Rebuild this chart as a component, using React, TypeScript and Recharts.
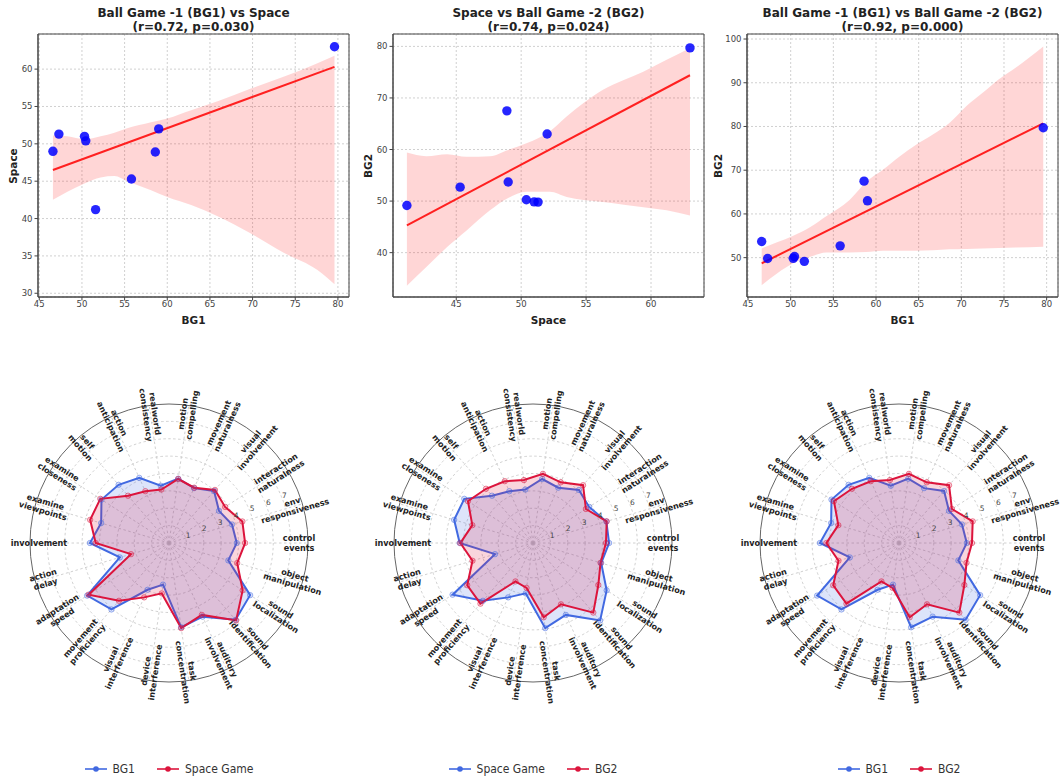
import {
  ComposedChart, Scatter, Line, Area, XAxis, YAxis, CartesianGrid, ReferenceArea,
  RadarChart, Radar, PolarGrid, PolarAngleAxis, PolarRadiusAxis, Legend,
} from 'recharts';

const FONT = '"DejaVu Sans", sans-serif';
const BLUE = '#4169e1';
const RED = '#dc143c';

// overall scores per participant (same participant order in each array)
const bg1Scores = [46.6, 47.3, 50.3, 50.45, 51.6, 55.8, 58.6, 59.0, 79.6];
const spaceScores = [49.0, 51.3, 51.0, 50.4, 41.2, 45.3, 48.9, 52.0, 63.0];
const bg2Scores = [53.7, 49.8, 49.85, 50.25, 49.15, 52.7, 67.5, 63.0, 79.7];

// fitted regression lines (end points)
const fitBg1Space = { x: [46.6, 79.6], y: [46.5, 60.3] };
const fitSpaceBg2 = { x: [41.2, 63.0], y: [45.3, 74.4] };
const fitBg1Bg2 = { x: [46.6, 79.6], y: [48.7, 80.7] };

// bootstrapped 95% confidence bands
const bandBg1SpaceX = [46.6, 48.3, 50.3, 52.2, 53.8, 55.3, 58.1, 60.0, 62.8, 65.9, 69.8, 73.7, 77.6, 79.6];
const bandBg1SpaceHi = [51.1, 51.0, 50.6, 51.0, 51.5, 52.1, 52.9, 53.4, 54.5, 55.7, 57.4, 59.0, 60.8, 61.8];
const bandBg1SpaceLo = [42.5, 43.6, 44.7, 45.5, 45.7, 45.0, 43.8, 42.9, 41.8, 40.3, 38.0, 35.4, 33.1, 31.2];

const bandSpaceBg2X = [41.2, 42.7, 44.3, 45.8, 47.6, 49.0, 50.4, 52.2, 53.5, 54.8, 56.3, 57.9, 59.4, 61.2, 63.0];
const bandSpaceBg2Hi = [59.4, 58.7, 59.1, 58.6, 58.7, 59.9, 61.2, 63.5, 66.4, 69.0, 71.6, 73.5, 75.1, 77.4, 79.7];
const bandSpaceBg2Lo = [33.6, 37.2, 41.1, 44.3, 48.2, 50.6, 51.8, 51.8, 50.8, 50.2, 49.8, 49.3, 48.8, 48.2, 47.2];

const bandBg1Bg2X = [46.6, 48.4, 50.3, 52.3, 54.2, 56.9, 58.9, 60.8, 62.8, 64.7, 66.7, 68.6, 70.6, 72.5, 74.4, 76.4, 79.6];
const bandBg1Bg2Hi = [52.1, 53.5, 55.0, 57.0, 59.5, 63.2, 67.4, 70.1, 73.2, 75.8, 78.2, 80.8, 84.7, 87.7, 90.8, 93.5, 98.3];
const bandBg1Bg2Lo = [43.7, 46.4, 48.7, 50.2, 51.2, 51.2, 51.3, 51.6, 51.6, 51.6, 51.7, 51.9, 52.0, 52.1, 52.2, 52.3, 52.5];

// questionnaire items (radar axes, counter-clockwise from the right)
const metrics = [
  'control\nevents', 'env\nresponsiveness', 'interaction\nnaturalness', 'visual\ninvolvement',
  'movement\nnaturalness', 'motion\ncompelling', 'realworld\nconsistency', 'action\nanticipation',
  'self\nmotion', 'examine\ncloseness', 'examine\nviewpoints', 'involvement', 'action\ndelay',
  'adaptation\nspeed', 'movement\nproficiency', 'visual\ninterference', 'device\ninterference',
  'task\nconcentration', 'auditory\ninvolvement', 'sound\nidentification', 'sound\nlocalization',
  'object\nmanipulation',
];
const bg1Items = [3.9, 3.78, 3.42, 3.96, 3.47, 3.74, 3.33, 4.12, 4.43, 4.62, 4.07, 4.55, 2.95, 5.6, 5.06, 2.96, 2.42, 4.9, 4.66, 5.85, 5.55, 3.56];
const spaceItems = [4.38, 4.4, 3.84, 4.04, 3.5, 3.72, 3.11, 3.28, 3.6, 4.7, 4.73, 4.22, 2.28, 5.5, 4.4, 3.44, 2.93, 4.95, 4.55, 5.9, 5.04, 4.09];
const bg2Items = [4.2, 4.42, 3.62, 4.4, 3.84, 4.02, 3.66, 3.91, 4.13, 4.45, 3.64, 4.18, 3.63, 4.5, 4.62, 2.43, 2.61, 4.32, 3.88, 5.3, 4.47, 4.05];
const ringTicks = [1, 2, 3, 4, 5, 6, 7];

// recharts sweeps the radar clockwise reliably, so the rows go in reverse
// order and the sweep starts one step below 3 o'clock
const radarRows = metrics
  .map((metric, i) => ({ metric, bg1: bg1Items[i], space: spaceItems[i], bg2: bg2Items[i] }))
  .reverse();
const STEP = 360 / metrics.length;

const toPoints = (xs: number[], ys: number[]) => xs.map((x, i) => ({ x, y: ys[i] }));
const toBand = (xs: number[], lo: number[], hi: number[]) =>
  xs.map((x, i) => ({ x, band: [lo[i], hi[i]] }));

const PLOT_W = 311;
const PLOT_H = 263;

interface ScatterPanelProps {
  left: number;
  title: string;
  stats: string;
  xLabel: string;
  yLabel: string;
  yLabelGap: number;
  points: { x: number; y: number }[];
  fit: { x: number; y: number }[];
  band: { x: number; band: number[] }[];
  xDomain: [number, number];
  yDomain: [number, number];
  xTicks: number[];
  yTicks: number[];
}

function ScatterPanel(p: ScatterPanelProps) {
  const tick = { fontSize: 8.5, fill: '#444', fontFamily: FONT };
  return (
    <div style={{ position: 'absolute', left: p.left, top: 0, width: 360, height: 330 }}>
      <div style={{
        position: 'absolute', left: 40, width: PLOT_W, top: 6, textAlign: 'center',
        font: `bold 12px/14px ${FONT}`, color: '#222', whiteSpace: 'nowrap',
      }}>
        <div>{p.title}</div>
        <div>{p.stats}</div>
      </div>
      <ComposedChart width={360} height={330} margin={{ top: 34, right: 9, bottom: 11, left: 12 }}>
        <CartesianGrid stroke="#d0d0d0" strokeDasharray="2 2" />
        <XAxis
          type="number" dataKey="x" domain={p.xDomain} ticks={p.xTicks} allowDataOverflow
          height={22} tick={tick} tickSize={3.5} tickMargin={0} stroke="#444"
        />
        <YAxis
          type="number" domain={p.yDomain} ticks={p.yTicks} allowDataOverflow
          width={28} tick={tick} tickSize={3.5} tickMargin={2} stroke="#444"
        />
        <Area
          data={p.band} dataKey="band" type="monotone" stroke="none"
          fill="#ff0000" fillOpacity={0.16} isAnimationActive={false}
        />
        <Line
          data={p.fit} dataKey="y" type="linear" stroke="#ff2020" strokeWidth={2}
          dot={false} isAnimationActive={false}
        />
        <Scatter
          data={p.points} dataKey="y" isAnimationActive={false}
          shape={(s: any) => <circle cx={s.cx} cy={s.cy} r={4.7} fill="#0000ff" fillOpacity={0.85} />}
        />
        <ReferenceArea
          x1={p.xDomain[0]} x2={p.xDomain[1]} y1={p.yDomain[0]} y2={p.yDomain[1]}
          fill="none" stroke="#444" strokeWidth={1} ifOverflow="visible"
        />
      </ComposedChart>
      <div style={{
        position: 'absolute', left: 40, width: PLOT_W, top: 314, textAlign: 'center',
        font: `bold 10.5px/12px ${FONT}`, color: '#222',
      }}>
        {p.xLabel}
      </div>
      <div style={{
        position: 'absolute', left: 40 - p.yLabelGap - 30, width: 60, top: 34 + PLOT_H / 2 - 6,
        textAlign: 'center', font: `bold 10.5px/12px ${FONT}`, color: '#222',
        transform: 'rotate(-90deg)',
      }}>
        {p.yLabel}
      </div>
    </div>
  );
}

const RCX = 180;
const RCY = 180;
const R_OUTER = 139;
const LABEL_R = 130;

function AngleTick(props: any) {
  const { payload } = props;
  const deg = (((payload?.coordinate ?? 0) % 360) + 360) % 360;
  const rad = (deg * Math.PI) / 180;
  const x = RCX + LABEL_R * Math.cos(rad);
  const y = RCY - LABEL_R * Math.sin(rad);
  const rot = deg > 90 && deg < 270 ? deg - 180 : deg > 270 ? deg - 360 : deg;
  const lines = String(payload.value).split('\n');
  const lh = 9.3;
  return (
    <text
      transform={`translate(${x},${y}) rotate(${-rot})`} textAnchor="middle"
      fontFamily={FONT} fontSize={8.1} fontWeight="bold" fill="#222"
    >
      {lines.map((l, i) => (
        <tspan key={i} x={0} y={(i - (lines.length - 1) / 2) * lh} dy="0.35em">{l}</tspan>
      ))}
    </text>
  );
}

function RingTick(props: any) {
  const { x, y, payload } = props;
  return (
    <text x={x + 3} y={y - 1} dy="0.35em" textAnchor="middle" fontFamily={FONT} fontSize={7.5} fill="#444">
      {payload.value}
    </text>
  );
}

function LegendContent({ payload }: { payload?: { value: string; color: string }[] }) {
  return (
    <div style={{ display: 'flex', justifyContent: 'center', alignItems: 'center', gap: 22 }}>
      {(payload ?? []).map((e) => (
        <span key={e.value} style={{ display: 'flex', alignItems: 'center', gap: 6 }}>
          <svg width={22} height={10}>
            <line x1={0} y1={5} x2={22} y2={5} stroke={e.color} strokeWidth={2} strokeOpacity={0.8} />
            <circle cx={11} cy={5} r={2.8} fill={e.color} />
          </svg>
          <span style={{
            font: `12px/14px "Liberation Sans Narrow", "DejaVu Sans Condensed", sans-serif`, color: '#333',
          }}>
            {e.value}
          </span>
        </span>
      ))}
    </div>
  );
}

interface SeriesDef { key: string; name: string; color: string; }

function RadarPanel({ centerX, series }: { centerX: number; series: SeriesDef[] }) {
  const order = series.map((s) => s.name);
  return (
    <div style={{ position: 'absolute', left: centerX - RCX, top: 543 - RCY }}>
      <RadarChart
        width={360} height={418} data={radarRows} cx={RCX} cy={RCY} outerRadius={R_OUTER}
        startAngle={-STEP} endAngle={-STEP - 360} margin={{ top: 0, right: 0, bottom: 0, left: 0 }}
      >
        <PolarGrid gridType="circle" stroke="#c4c4c4" strokeDasharray="2.5 2.5" strokeWidth={0.8} />
        <PolarAngleAxis
          dataKey="metric" tick={(t: any) => <AngleTick {...t} />} tickLine={false}
          axisLineType="circle" stroke="#666"
        />
        <PolarRadiusAxis
          angle={22.5} domain={[0, 7.5]} ticks={ringTicks} axisLine={false}
          tick={(t: any) => <RingTick {...t} />}
        />
        {series.map((s) => (
          <Radar
            key={s.key} name={s.name} dataKey={s.key} stroke={s.color} strokeWidth={2}
            fill={s.color} fillOpacity={0.18} isAnimationActive={false}
            dot={{ r: 2.7, fill: s.color, stroke: s.color, strokeWidth: 0.5 }}
          />
        ))}
        <Legend
          verticalAlign="bottom" wrapperStyle={{ bottom: 5 }} content={<LegendContent />}
          itemSorter={(item: any) => order.indexOf(item.value)}
        />
      </RadarChart>
    </div>
  );
}

export default function App() {
  return (
    <div style={{
      position: 'absolute', left: 0, top: 0, width: 1060, height: 781,
      overflow: 'hidden', background: '#fff', fontFamily: FONT,
    }}>
      <ScatterPanel
        left={-2} title="Ball Game -1 (BG1) vs Space" stats="(r=0.72, p=0.030)"
        xLabel="BG1" yLabel="Space" yLabelGap={25}
        points={toPoints(bg1Scores, spaceScores)}
        fit={toPoints(fitBg1Space.x, fitBg1Space.y)}
        band={toBand(bandBg1SpaceX, bandBg1SpaceLo, bandBg1SpaceHi)}
        xDomain={[44.85, 81.3]} yDomain={[29.5, 64.7]}
        xTicks={[45, 50, 55, 60, 65, 70, 75, 80]} yTicks={[30, 35, 40, 45, 50, 55, 60]}
      />
      <ScatterPanel
        left={353} title="Space vs Ball Game -2 (BG2)" stats="(r=0.74, p=0.024)"
        xLabel="Space" yLabel="BG2" yLabelGap={25}
        points={toPoints(spaceScores, bg2Scores)}
        fit={toPoints(fitSpaceBg2.x, fitSpaceBg2.y)}
        band={toBand(bandSpaceBg2X, bandSpaceBg2Lo, bandSpaceBg2Hi)}
        xDomain={[40.13, 64.08]} yDomain={[31.4, 82.4]}
        xTicks={[45, 50, 55, 60]} yTicks={[40, 50, 60, 70, 80]}
      />
      <ScatterPanel
        left={707} title="Ball Game -1 (BG1) vs Ball Game -2 (BG2)" stats="(r=0.92, p=0.000)"
        xLabel="BG1" yLabel="BG2" yLabelGap={29}
        points={toPoints(bg1Scores, bg2Scores)}
        fit={toPoints(fitBg1Bg2.x, fitBg1Bg2.y)}
        band={toBand(bandBg1Bg2X, bandBg1Bg2Lo, bandBg1Bg2Hi)}
        xDomain={[44.88, 81.33]} yDomain={[41.0, 101.15]}
        xTicks={[45, 50, 55, 60, 65, 70, 75, 80]} yTicks={[50, 60, 70, 80, 90, 100]}
      />

      <RadarPanel centerX={169} series={[
        { key: 'bg1', name: 'BG1', color: BLUE },
        { key: 'space', name: 'Space Game', color: RED },
      ]} />
      <RadarPanel centerX={533} series={[
        { key: 'space', name: 'Space Game', color: BLUE },
        { key: 'bg2', name: 'BG2', color: RED },
      ]} />
      <RadarPanel centerX={899} series={[
        { key: 'bg1', name: 'BG1', color: BLUE },
        { key: 'bg2', name: 'BG2', color: RED },
      ]} />
    </div>
  );
}
